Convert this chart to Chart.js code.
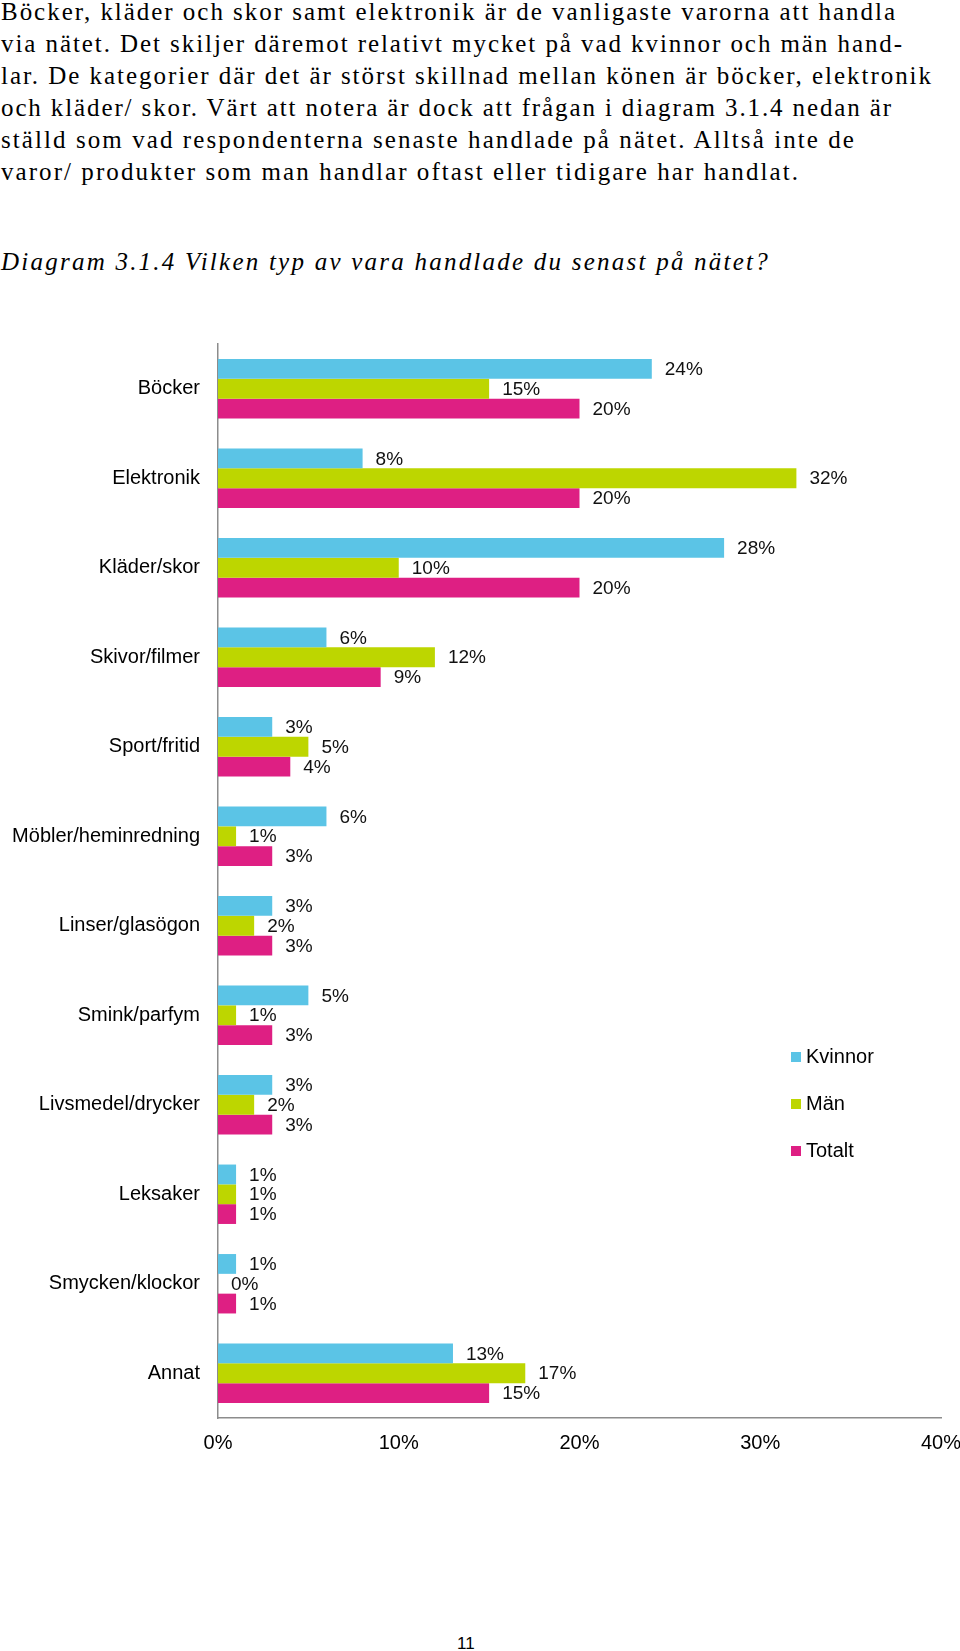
<!DOCTYPE html>
<html lang="sv">
<head>
<meta charset="utf-8">
<title>Diagram 3.1.4</title>
<script src="https://cdn.jsdelivr.net/npm/chart.js@4/dist/chart.umd.min.js"></script>
<style>
  html, body { margin: 0; padding: 0; background: #fff; }
  body { width: 960px; height: 1651px; position: relative; overflow: hidden; }
  .line {
    position: absolute; left: 1px; white-space: nowrap; color: #000;
    font-family: "Liberation Serif", "Times New Roman", serif;
    font-size: 25px; line-height: 32px;
  }
  .line.title { font-style: italic; }
  #chartBox { position: absolute; left: 0; top: 300px; width: 960px; height: 1180px; }
  #pageNo {
    position: absolute; left: 457px; top: 1634px; color: #000;
    font-family: "Liberation Sans", Arial, sans-serif; font-size: 17px; line-height: 20px;
  }
</style>
</head>
<body>
<div id="textBlock"></div>
<div id="chartBox"><canvas id="chart" width="960" height="1180"></canvas></div>
<div id="pageNo">11</div>

<script>
// data
const categories = [
    'Böcker', 'Elektronik', 'Kläder/skor', 'Skivor/filmer', 'Sport/fritid',
    'Möbler/heminredning', 'Linser/glasögon', 'Smink/parfym', 'Livsmedel/drycker',
    'Leksaker', 'Smycken/klockor', 'Annat'
];
const kvinnor = [24, 8, 28, 6, 3, 6, 3, 5, 3, 1, 1, 13];
const man     = [15, 32, 10, 12, 5, 1, 2, 1, 2, 1, 0, 17];
const totalt  = [20, 20, 20, 9, 4, 3, 3, 3, 3, 1, 1, 15];
const xTicks  = [0, 10, 20, 30, 40];

const seriesNames = ['Kvinnor', 'Män', 'Totalt'];
const seriesColors = ['#5bc4e6', '#bdd600', '#de1f83'];

// brödtext ovanför diagrammet: rad, målbredd, top, kursiv
const textLines = [
    ['Böcker, kläder och skor samt elektronik är de vanligaste varorna att handla', 896, 0],
    ['via nätet. Det skiljer däremot relativt mycket på vad kvinnor och män hand-', 903, 32],
    ['lar. De kategorier där det är störst skillnad mellan könen är böcker, elektronik', 932, 64],
    ['och kläder/ skor. Värt att notera är dock att frågan i diagram 3.1.4 nedan är', 892, 96],
    ['ställd som vad respondenterna senaste handlade på nätet. Alltså inte de', 855, 128],
    ['varor/ produkter som man handlar oftast eller tidigare har handlat.', 799, 160],
    ['Diagram 3.1.4 Vilken typ av vara handlade du senast på nätet?', 769, 250, true]
];

const block = document.getElementById('textBlock');
textLines.forEach(([txt, target, top, italic]) => {
    const d = document.createElement('div');
    d.className = 'line' + (italic ? ' title' : '');
    d.style.top = (top - 4) + 'px';
    d.textContent = txt;
    block.appendChild(d);
    // texten är spärrad i originalet
    const natural = d.getBoundingClientRect().width;
    d.style.letterSpacing = ((target - natural) / txt.length).toFixed(3) + 'px';
});

// etiketter vid staplarnas ände
const valueLabels = {
    id: 'valueLabels',
    afterDatasetsDraw(chart) {
        const ctx = chart.ctx;
        ctx.save();
        ctx.font = '19px "Liberation Sans", Arial, sans-serif';
        ctx.fillStyle = '#111';
        ctx.textAlign = 'left';
        ctx.textBaseline = 'middle';
        chart.data.datasets.forEach((ds, i) => {
            chart.getDatasetMeta(i).data.forEach((bar, j) => {
                ctx.fillText(ds.data[j] + '%', bar.x + 13, bar.y + 1);
            });
        });
        ctx.restore();
    }
};

// förklaring till höger inne i diagrammet
const sideLegend = {
    id: 'sideLegend',
    afterDraw(chart) {
        const ctx = chart.ctx;
        ctx.save();
        ctx.font = '20px "Liberation Sans", Arial, sans-serif';
        ctx.textAlign = 'left';
        ctx.textBaseline = 'middle';
        chart.data.datasets.forEach((ds, i) => {
            const y = 752 + i * 47;
            ctx.fillStyle = ds.backgroundColor;
            ctx.fillRect(791, y, 10, 10);
            ctx.fillStyle = '#000';
            ctx.fillText(ds.label, 806, y + 5);
        });
        ctx.restore();
    }
};

const ctx = document.getElementById('chart').getContext('2d');
new Chart(ctx, {
    type: 'bar',
    data: {
        labels: categories,
        datasets: [kvinnor, man, totalt].map((vals, i) => ({
            label: seriesNames[i],
            data: vals,
            backgroundColor: seriesColors[i],
            borderWidth: 0,
            categoryPercentage: 0.664,
            barPercentage: 1.0
        }))
    },
    options: {
        indexAxis: 'y',
        responsive: false,
        animation: false,
        devicePixelRatio: 1,
        layout: { padding: { top: 44, right: 19, left: 0, bottom: 0 } },
        plugins: {
            legend: { display: false },
            tooltip: { enabled: false }
        },
        scales: {
            x: {
                min: 0,
                max: 40,
                afterBuildTicks: (scale) => { scale.ticks = xTicks.map(v => ({ value: v })); },
                afterFit: (scale) => {
                    scale.height = 62;
                    scale.paddingLeft = 0;
                    scale.paddingRight = 0;
                },
                grid: { display: false, drawTicks: false },
                border: { display: true, color: '#8c8c8c', width: 1.5 },
                ticks: {
                    padding: 13,
                    color: '#000',
                    font: { family: '"Liberation Sans", Arial, sans-serif', size: 20 },
                    callback: (v) => v + '%'
                }
            },
            y: {
                afterFit: (scale) => { scale.width = 218; },
                grid: { display: false, drawTicks: false },
                border: { display: true, color: '#8c8c8c', width: 1.5 },
                ticks: {
                    padding: 18,
                    color: '#000',
                    font: { family: '"Liberation Sans", Arial, sans-serif', size: 20 }
                }
            }
        }
    },
    plugins: [valueLabels, sideLegend]
});
</script>
</body>
</html>
